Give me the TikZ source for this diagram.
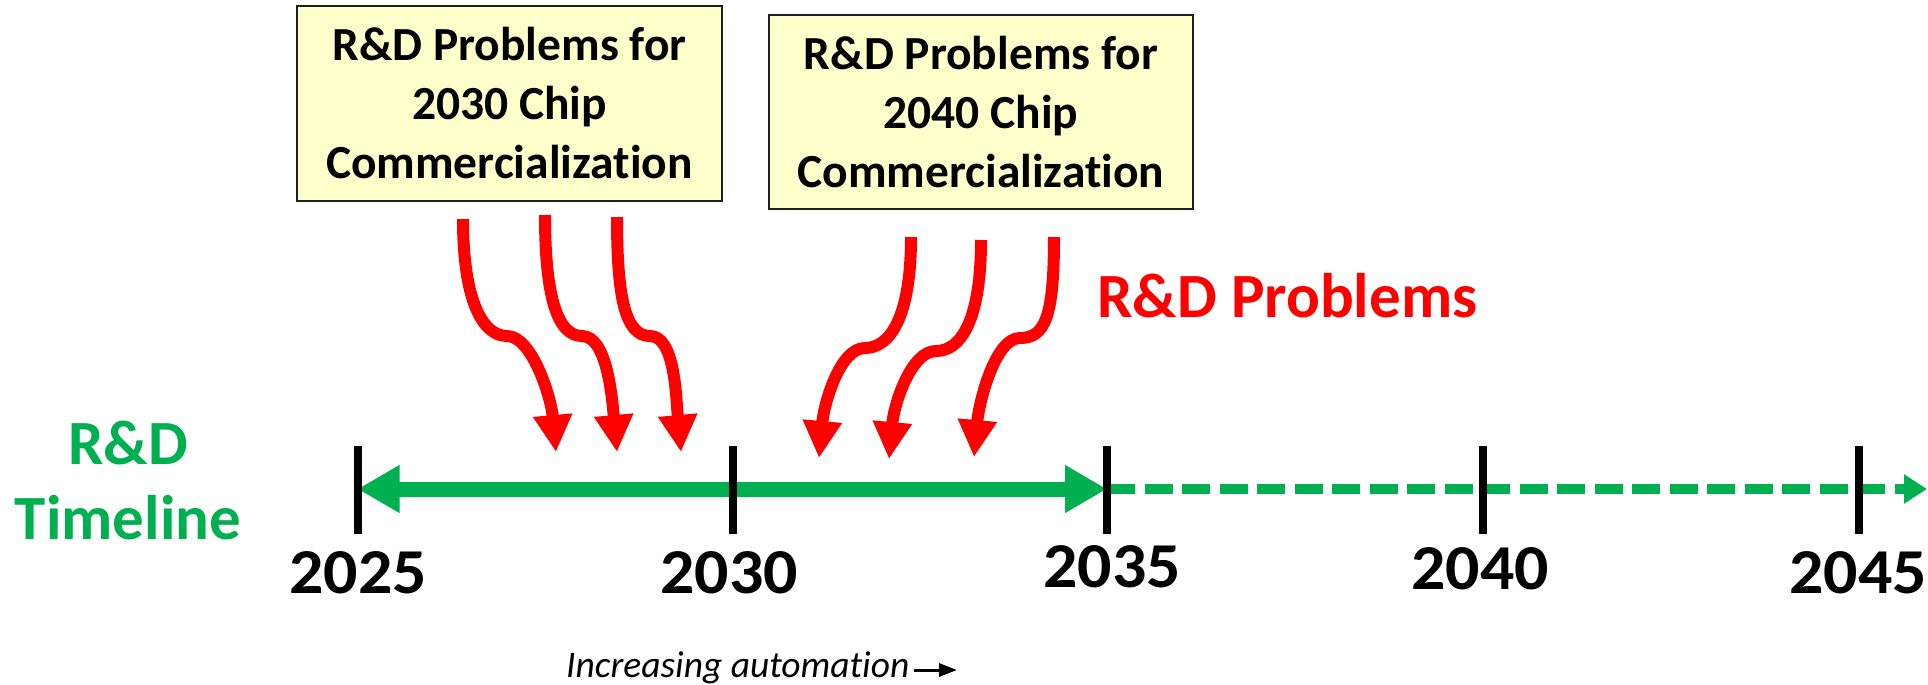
\documentclass[tikz,border=0pt]{standalone}
\usepackage{fontspec}
\usepackage{graphicx}
\setmainfont{Carlito}[Ligatures={NoCommon}]
\usetikzlibrary{arrows.meta}
\definecolor{rdgreen}{HTML}{00B050}
\definecolor{rdred}{HTML}{FF0000}
\definecolor{notefill}{HTML}{FFFFCC}

\begin{document}
\begin{tikzpicture}[x=1pt,y=-1pt,
  notebox/.style={draw=black!88, line width=2pt, fill=notefill,
    minimum width=425pt, minimum height=195pt, align=center, inner sep=0pt,
    font=\fontsize{47.5}{59}\selectfont\bfseries},
  yearlabel/.style={inner sep=0pt, font=\fontsize{64}{64}\selectfont\bfseries},
  yeartick/.style={line width=8pt, black},
  problem/.style={rdred, line width=12pt, -{Triangle[width=37pt,length=37pt]}},
]
% canvas
\fill[white] (0,0) rectangle (1928,685);
\useasboundingbox (0,0) rectangle (1928,685);

% note boxes
\node[notebox] (box30) at (509.5,103.5) {R\&D Problems for\\2030 Chip\\Commercialization};
\node[notebox, minimum width=424pt, minimum height=194pt] (box40) at (981,112) {R\&D Problems for\\2040 Chip\\Commercialization};

% timeline anchor points
\foreach \yr/\x in {25/357.5,30/732.5,35/1107,40/1483,45/1858.5}{
  \coordinate (t\yr) at (\x,489);
}
\coordinate (tend) at (1927,489);

% solid span and dashed continuation
\draw[rdgreen, line width=15pt,
  {Triangle[width=45pt,length=42pt]}-{Triangle[width=45pt,length=42pt]}] (t25) -- (t35);
\draw[rdgreen, line width=10pt, dash pattern=on 28pt off 9.5pt,
  -{Triangle[width=28pt,length=23pt]}] (t35) -- (tend);

% year ticks
\foreach \yr in {25,30,35,40,45}{
  \draw[yeartick] (t\yr) ++(0,-43) -- ++(0,88);
}

% year labels
\node[yearlabel] (y25) at (358,573) {\scalebox{1.06}[1]{2025}};
\node[yearlabel] (y30) at (729,573) {\scalebox{1.06}[1]{2030}};
\node[yearlabel] (y35) at (1112,567) {\scalebox{1.06}[1]{2035}};
\node[yearlabel] (y40) at (1480,569) {\scalebox{1.06}[1]{2040}};
\node[yearlabel] (y45) at (1858,573) {\scalebox{1.06}[1]{2045}};

% side labels
\node[inner sep=0pt, align=center, text=rdgreen,
  font=\fontsize{63}{75}\selectfont\bfseries] (tl) at (128,480) {R\&D\\Timeline};
\node[inner sep=0pt, anchor=base west, text=rdred,
  font=\fontsize{63}{75}\selectfont\bfseries] (probs) at (1097,317) {R\&D Problems};

% automation note
\node[inner sep=0pt, anchor=base west, font=\fontsize{37.5}{40}\selectfont\itshape]
  (auto) at (566,677) {Increasing automation};
\coordinate (autoend) at (957,670);
\draw[black, line width=3pt, -{Triangle[width=13pt,length=18pt]}]
  ([xshift=4pt]auto.east |- autoend) -- (autoend);

% problem arrows toward the first span
\coordinate (a1top) at (463,219); \coordinate (a1knee) at (507,336); \coordinate (a1tip) at (556,452);
\coordinate (a2top) at (545,215); \coordinate (a2knee) at (582,336); \coordinate (a2tip) at (617,452);
\coordinate (a3top) at (617,217); \coordinate (a3knee) at (650,336); \coordinate (a3tip) at (681,452);
\foreach \k in {1,2,3}{
  \draw[problem] (a\k top) .. controls +(0,80) and +(-25,0) .. (a\k knee)
    .. controls +(25,0) and +(-5,-55) .. (a\k tip);
}

% problem arrows toward the second span
\coordinate (a4top) at (911,237); \coordinate (a4knee) at (865,348); \coordinate (a4tip) at (819,458);
\coordinate (a5top) at (981,240); \coordinate (a5knee) at (936,351); \coordinate (a5tip) at (889,459);
\coordinate (a6top) at (1054,237); \coordinate (a6knee) at (1020,338); \coordinate (a6tip) at (974,457);
\foreach \k in {4,5,6}{
  \draw[problem] (a\k top) .. controls +(0,80) and +(25,0) .. (a\k knee)
    .. controls +(-25,0) and +(5,-55) .. (a\k tip);
}
\end{tikzpicture}
\end{document}
